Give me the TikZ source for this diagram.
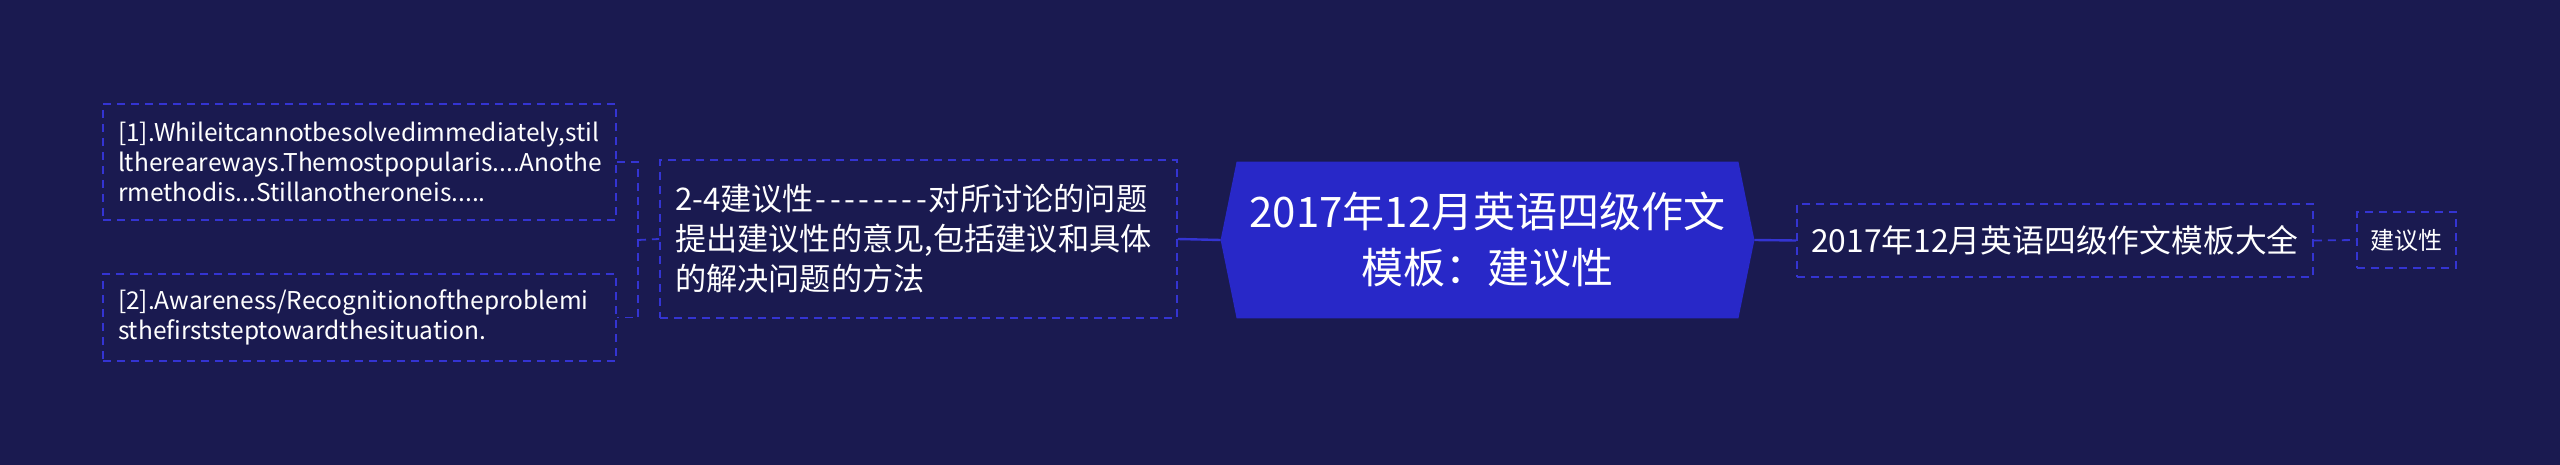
\documentclass[tikz,border=0pt]{standalone}
\usepackage{fontspec}
\newfontfamily\cjk{Noto Sans CJK SC}
\newcommand\hyph{\makebox[0.46em]{-}}
\definecolor{bg}{HTML}{1A1A50}
\definecolor{hexfill}{HTML}{2828C8}
\definecolor{edge}{HTML}{3434D2}
\pgfdeclarelayer{back}
\pgfdeclarelayer{mid}
\pgfsetlayers{back,mid,main}
\tikzset{
  dbox/.style={draw=edge, dash pattern=on 4pt off 3pt, line width=0.9pt, text=white,
    inner xsep=7.5pt, inner ysep=0pt, align=left, anchor=center},
  link/.style={draw=edge, line width=1.2pt},
  dlink/.style={draw=edge, line width=0.9pt, dash pattern=on 4pt off 3pt},
}
\begin{document}
\begin{tikzpicture}[x=1pt,y=-1pt]
\begin{pgfonlayer}{back}
  \fill[bg] (0,0) rectangle (1280,232.5);
\end{pgfonlayer}
\useasboundingbox (0,0) rectangle (1280,232.5);

\node[inner sep=0pt, minimum width=266.5pt, minimum height=78pt, align=center, text=white,
  font=\cjk\fontsize{21}{28}\selectfont] (root) at (743.75,120)
  {2017年12月英语四级作文\\模板：建议性};
\begin{pgfonlayer}{mid}
  \fill[hexfill] (root.west) -- ([xshift=8pt]root.north west) -- ([xshift=-8pt]root.north east)
    -- (root.east) -- ([xshift=-8pt]root.south east) -- ([xshift=8pt]root.south west) -- cycle;
\end{pgfonlayer}

\node[dbox, text width=243.5pt, minimum height=79pt, font=\cjk\fontsize{15.6}{20}\selectfont] (b3) at (459.25,119.5)
  {2-4建议性\hyph\hyph\hyph\hyph\hyph\hyph\hyph\hyph 对所讨论的问题\\提出建议性的意见,包括建议和具体\\的解决问题的方法};

\node[dbox, text width=241.5pt, minimum height=58pt, font=\cjk\fontsize{12.25}{15}\selectfont] (b1) at (179.75,81)
  {[1].Whileitcannotbesolvedimmediately,stil\\lthereareways.Themostpopularis....Anothe\\rmethodis...Stillanotheroneis.....};
\node[dbox, text width=241.5pt, minimum height=43.5pt, font=\cjk\fontsize{12.25}{15}\selectfont] (b2) at (179.75,158.75)
  {[2].Awareness/Recognitionoftheproblemi\\sthefirststeptowardthesituation.};

\node[dbox, align=center, minimum width=258pt, minimum height=36.5pt, inner xsep=0pt, font=\cjk\fontsize{15.9}{20}\selectfont] (b4) at (1027.5,120.25)
  {2017年12月英语四级作文模板大全};
\node[dbox, align=center, minimum width=49.5pt, minimum height=28pt, inner xsep=0pt, font=\cjk\fontsize{12}{15}\selectfont] (b5) at (1203.25,120)
  {建议性};

\coordinate (j) at (319,120);
\draw[link] (b3.east) -- (root.west);
\draw[link] (root.east) -- (b4.west);
\draw[dlink] (b4.east) -- (b5.west);
\draw[dlink] (b1.east) -- (b1.east -| j) -- (b2.east -| j) -- (b2.east);
\draw[dlink] (j) -- (b3.west);
\end{tikzpicture}
\end{document}
